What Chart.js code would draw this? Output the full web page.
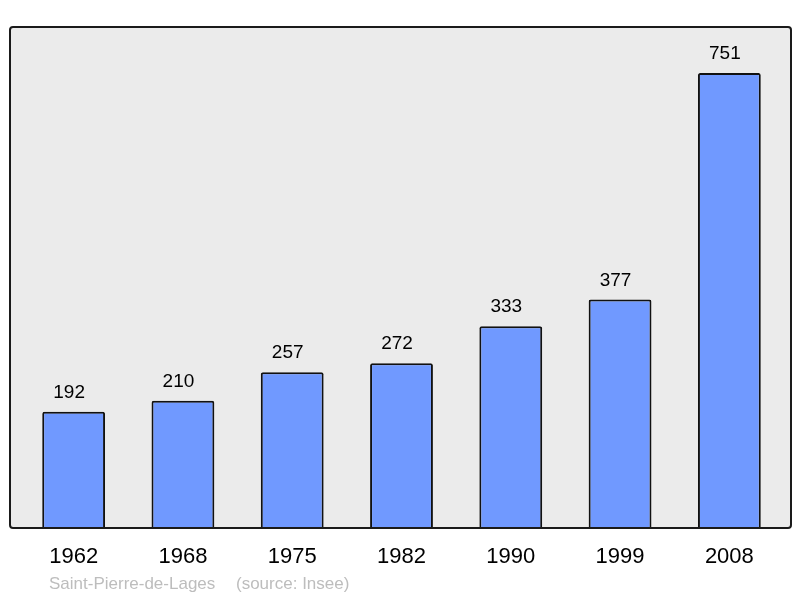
<!DOCTYPE html>
<html>
<head>
<meta charset="utf-8">
<script src="https://cdn.jsdelivr.net/npm/chart.js@4/dist/chart.umd.min.js"></script>
<style>
html,body{margin:0;padding:0;background:#fff;}
#wrap{width:800px;height:598px;}
</style>
</head>
<body>
<div id="wrap"><canvas id="c" width="800" height="598"></canvas></div>
<script>
const years = ["1962","1968","1975","1982","1990","1999","2008"];
const population = [192,210,257,272,333,377,751];
const footerName = "Saint-Pierre-de-Lages";
const footerSource = "(source: Insee)";

const framePlugin = {
  id: 'frame',
  beforeDraw(chart) {
    const ctx = chart.ctx, a = chart.chartArea;
    const l = a.left - 9, r = a.right + 7, t = a.top, b = a.bottom;
    ctx.save();
    ctx.beginPath();
    ctx.roundRect(l, t, r - l, b - t, 3);
    ctx.fillStyle = '#ebebeb';
    ctx.fill();
    ctx.restore();
  },
  afterDatasetsDraw(chart) {
    const ctx = chart.ctx, a = chart.chartArea;
    const l = a.left - 9, r = a.right + 7, t = a.top, b = a.bottom;
    ctx.save();
    ctx.beginPath();
    ctx.roundRect(l, t, r - l, b - t, 3);
    ctx.lineWidth = 2;
    ctx.strokeStyle = '#1a1a1a';
    ctx.stroke();
    // value labels
    const meta = chart.getDatasetMeta(0);
    ctx.fillStyle = '#000';
    ctx.font = '19px "Liberation Sans", Arial, sans-serif';
    ctx.textAlign = 'center';
    ctx.textBaseline = 'alphabetic';
    meta.data.forEach((bar, i) => {
      ctx.fillText(String(population[i]), bar.x - 4.5, bar.y - 14);
    });
    // footer
    ctx.fillStyle = '#bdbdbd';
    ctx.font = '17px "Liberation Sans", Arial, sans-serif';
    ctx.textAlign = 'left';
    ctx.fillText(footerName, 49, 589);
    ctx.fillText(footerSource, 236, 589);
    ctx.restore();
  }
};

new Chart(document.getElementById('c'), {
  type: 'bar',
  data: {
    labels: years,
    datasets: [{
      data: population,
      backgroundColor: '#7099ff',
      borderColor: '#111',
      borderWidth: 2,
      borderRadius: 2,
      borderSkipped: 'bottom',
      barPercentage: 0.575,
      categoryPercentage: 1.0
    }]
  },
  options: {
    responsive: false,
    animation: false,
    devicePixelRatio: 1,
    layout: { padding: { left: 19, right: 16, top: 27, bottom: 0 } },
    plugins: { legend: { display: false }, tooltip: { enabled: false } },
    scales: {
      x: {
        grid: { display: false, drawTicks: false },
        border: { display: false },
        ticks: {
          color: '#000',
          font: { family: '"Liberation Sans", Arial, sans-serif', size: 22 },
          padding: 16,
          maxRotation: 0
        },
        afterFit(scale) { scale.height = 70; }
      },
      y: {
        display: false,
        min: 0,
        max: 827
      }
    }
  },
  plugins: [framePlugin]
});
</script>
</body>
</html>
